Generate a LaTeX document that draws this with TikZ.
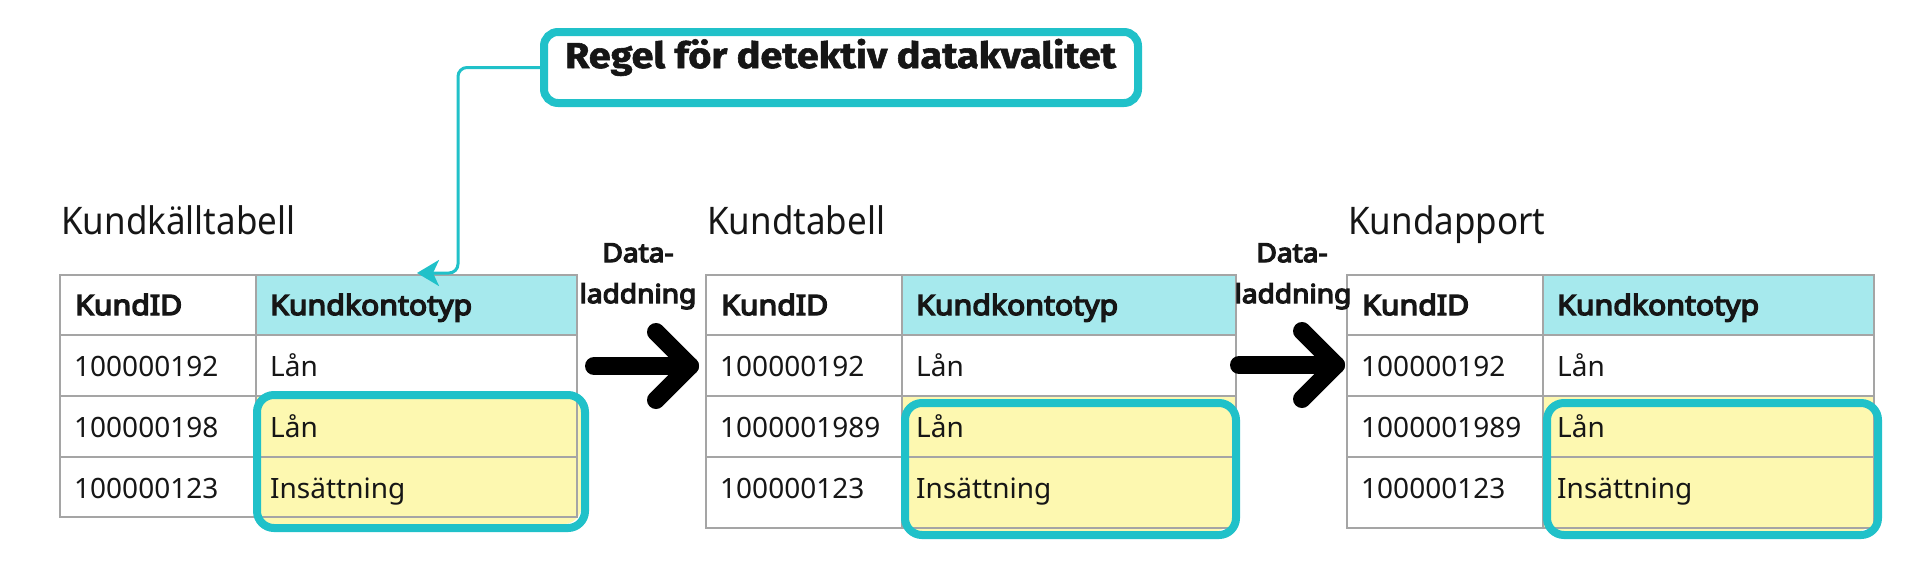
\documentclass[tikz,border=0pt]{standalone}
\usepackage{fontspec}
\setmainfont{Noto Sans}
\newfontfamily\firafont[FakeStretch=1.1, FakeBold=1.6]{Fira Sans}
\newfontfamily\captfont[FakeStretch=0.92]{Noto Sans}
\newfontfamily\notobold[FakeBold=5, FakeStretch=1.08]{Noto Sans}
\usetikzlibrary{arrows.meta,calc}
\definecolor{teal}{RGB}{32,193,201}
\definecolor{hdr}{RGB}{166,233,237}
\definecolor{hiyel}{RGB}{253,248,176}
\definecolor{grid}{RGB}{165,165,165}
\definecolor{ink}{RGB}{22,22,22}
\tikzset{
  cell/.style={draw=grid, line width=2pt, anchor=north west, inner sep=0pt, outer sep=0pt},
  celltext/.style={anchor=base west, inner sep=0pt, text=ink, font=\fontsize{28}{34}\selectfont},
  headtext/.style={anchor=base west, inner sep=0pt, text=ink, font=\notobold\fontsize{28}{34}\selectfont},
  captext/.style={anchor=base west, inner sep=0pt, text=ink, font=\captfont\fontsize{38}{44}\selectfont},
  loadtext/.style={anchor=base, inner sep=0pt, text=ink, font=\notobold\fontsize{26}{30}\selectfont},
  hibox/.style={draw=teal, line width=8pt, rounded corners=17pt},
  bigarrow/.style={draw=black, line width=18pt, line cap=round, line join=round},
  rulebox/.style={draw=teal, line width=8pt, rounded corners=14pt, fill=white, inner sep=0pt},
  ruleline/.style={draw=teal, line width=3pt, rounded corners=9pt, -{Stealth[length=22pt, width=26pt, inset=6pt]}}
}
% #1 prefix, #2 x0, #3 x1, #4 x2, #5 bottom y, #6 second id, #7 caption
\newcommand{\kundtab}[7]{%
  \node[captext] (#1cap) at ({#2+1},234) {#7};
  \node[cell, fill=white, minimum width={#3-#2}, minimum height=60] (#1h1) at (#2,275) {};
  \node[cell, fill=hdr, minimum width={#4-#3}, minimum height=60] (#1h2) at (#3,275) {};
  \node[cell, fill=white, minimum width={#3-#2}, minimum height=61] (#1a1) at (#2,335) {};
  \node[cell, fill=white, minimum width={#4-#3}, minimum height=61] (#1a2) at (#3,335) {};
  \node[cell, fill=white, minimum width={#3-#2}, minimum height=61] (#1b1) at (#2,396) {};
  \node[cell, fill=hiyel, minimum width={#4-#3}, minimum height=61] (#1b2) at (#3,396) {};
  \node[cell, fill=white, minimum width={#3-#2}, minimum height={#5-457}] (#1c1) at (#2,457) {};
  \node[cell, fill=hiyel, minimum width={#4-#3}, minimum height={#5-457}] (#1c2) at (#3,457) {};
  \node[headtext] (#1th1) at ({#2+15},315) {KundID};
  \node[headtext] (#1th2) at ({#3+14},315) {Kundkontotyp};
  \node[celltext] (#1ta1) at ({#2+14},376.5) {100000192};
  \node[celltext] (#1ta2) at ({#3+14},376.5) {Lån};
  \node[celltext] (#1tb1) at ({#2+14},437.5) {#6};
  \node[celltext] (#1tb2) at ({#3+14},437.5) {Lån};
  \node[celltext] (#1tc1) at ({#2+14},498) {100000123};
  \node[celltext] (#1tc2) at ({#3+14},498) {Insättning};
}
\begin{document}
\begin{tikzpicture}[x=1pt, y=-1pt]
\useasboundingbox (0,0) rectangle (1920,560);
\fill[white] (0,0) rectangle (1920,560);

% highlight fills (behind tables)
\fill[hiyel, rounded corners=17pt] (253,391) rectangle (581,524);
\fill[hiyel, rounded corners=17pt] (901,399) rectangle (1232,531);
\fill[hiyel, rounded corners=17pt] (1543,399) rectangle (1874,531);

\kundtab{t1}{60}{256}{577}{517}{100000198}{Kundkälltabell}
\kundtab{t2}{706}{902}{1236}{528}{1000001989}{Kundtabell}
\kundtab{t3}{1347}{1543}{1874}{528}{1000001989}{Kundapport}

% highlight borders
\node[hibox, minimum width=328, minimum height=133, anchor=north west] (hl1) at (253,391) {};
\node[hibox, minimum width=331, minimum height=132, anchor=north west] (hl2) at (901,399) {};
\node[hibox, minimum width=331, minimum height=132, anchor=north west] (hl3) at (1543,399) {};

% rule box
\node[rulebox, minimum width=594, minimum height=71] (rule) at (841,67.5) {};
\node[anchor=base, inner sep=0pt, text=ink, font=\firafont\bfseries\fontsize{36}{42}\selectfont] (ruletext) at (840.5,68) {Regel för detektiv datakvalitet};
\coordinate (ruletip) at (417,273);
\draw[ruleline] (rule.west) -- (458,67.5) -- (458,273) -- (ruletip);

% data load labels and arrows
\node[loadtext] (load1a) at (638,262) {Data-};
\node[loadtext] (load1b) at (638,303) {laddning};
\node[loadtext] (load2a) at (1292,262) {Data-};
\node[loadtext] (load2b) at (1293,303) {laddning};

\coordinate (a1s) at (594,366);
\coordinate (a1e) at (690,366);
\draw[bigarrow] (a1s) -- (a1e);
\draw[bigarrow] (656,332) -- (a1e) -- (656,400);
\coordinate (a2s) at (1239,365);
\coordinate (a2e) at (1336,365);
\draw[bigarrow] (a2s) -- (a2e);
\draw[bigarrow] (1302,331) -- (a2e) -- (1302,399);
\end{tikzpicture}
\end{document}
